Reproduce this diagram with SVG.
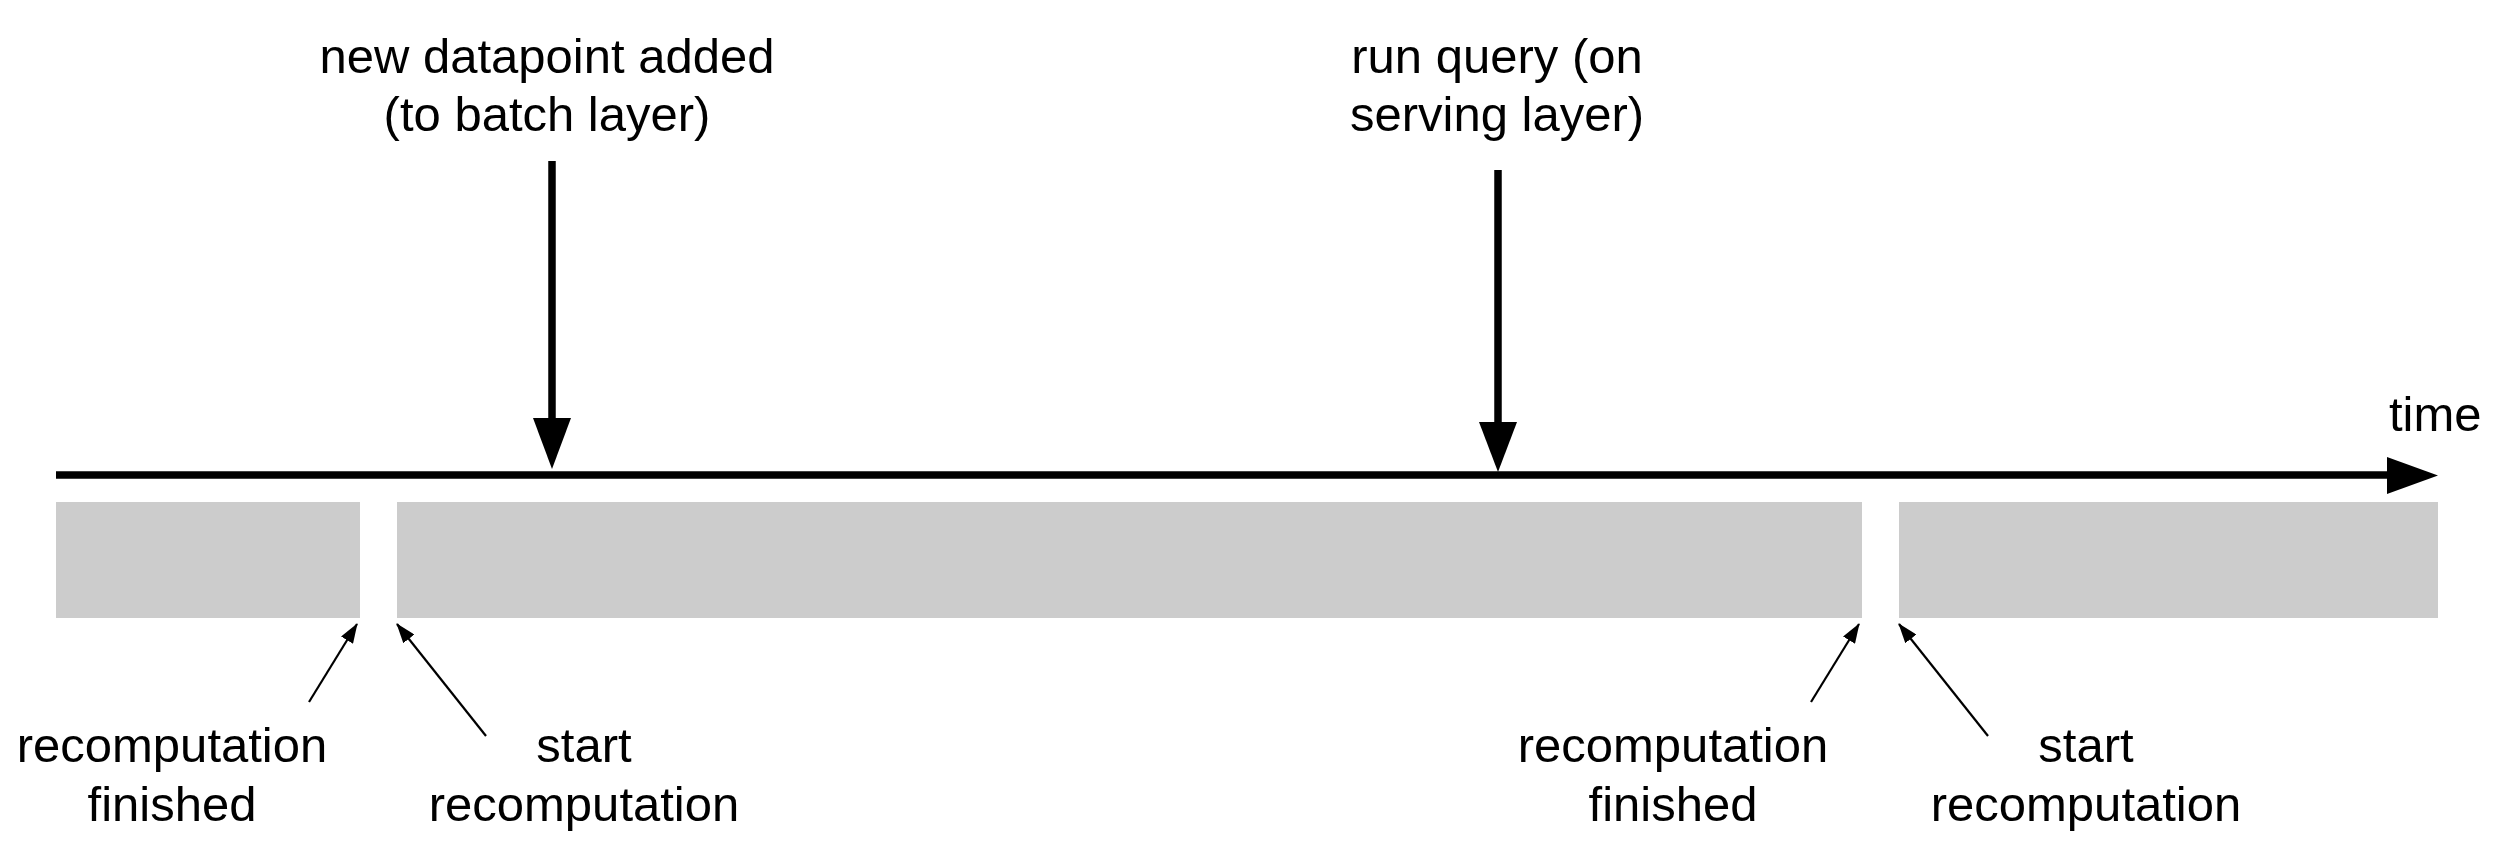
<svg xmlns="http://www.w3.org/2000/svg" width="2502" height="852" viewBox="0 0 2502 852">
<defs>
<style>
text { font-family: "Liberation Sans", Arial, Helvetica, sans-serif; font-size: 49px; fill: #000; }
.c { text-anchor: middle; }
.bar { fill: #cccccc; }
.thick { stroke: #000; stroke-width: 7.5; fill: none; }
.thin { stroke: #000; stroke-width: 2.2; fill: none; }
.head { fill: #000; }
</style>
<marker id="sm" viewBox="0 0 20 14" refX="19" refY="7" markerWidth="20" markerHeight="14" markerUnits="userSpaceOnUse" orient="auto">
<path d="M0,0 L20,7 L0,14 z" fill="#000"/>
</marker>
</defs>
<rect width="2502" height="852" fill="#fff"/>
<g id="bars">
<rect class="bar" x="56" y="502" width="304" height="116"/>
<rect class="bar" x="397" y="502" width="1465" height="116"/>
<rect class="bar" x="1899" y="502" width="539" height="116"/>
</g>
<g id="connectors">
<line class="thick" x1="56" y1="475" x2="2392" y2="475"/>
<polygon class="head" points="2387,457 2438,475.5 2387,494"/>
<line class="thick" x1="552" y1="161" x2="552" y2="425"/>
<polygon class="head" points="533,418 571,418 552,469"/>
<line class="thick" x1="1498" y1="170" x2="1498" y2="428"/>
<polygon class="head" points="1479,422 1517,422 1498,472"/>
<line class="thin" x1="309" y1="702" x2="357" y2="624" marker-end="url(#sm)"/>
<line class="thin" x1="486" y1="736" x2="397" y2="624" marker-end="url(#sm)"/>
<line class="thin" x1="1811" y1="702" x2="1859" y2="624" marker-end="url(#sm)"/>
<line class="thin" x1="1988" y1="736" x2="1899" y2="624" marker-end="url(#sm)"/>
</g>
<g id="label-new-datapoint">
<text class="c" x="547" y="73">new datapoint added</text>
<text class="c" x="547" y="131">(to batch layer)</text>
</g>
<g id="label-run-query">
<text class="c" x="1497" y="73">run query (on</text>
<text class="c" x="1497" y="131">serving layer)</text>
</g>
<g id="label-time">
<text x="2389" y="431">time</text>
</g>
<g id="label-finished-1">
<text class="c" x="172" y="762">recomputation</text>
<text class="c" x="172" y="821">finished</text>
</g>
<g id="label-start-1">
<text class="c" x="584" y="762">start</text>
<text class="c" x="584" y="821">recomputation</text>
</g>
<g id="label-finished-2">
<text class="c" x="1673" y="762">recomputation</text>
<text class="c" x="1673" y="821">finished</text>
</g>
<g id="label-start-2">
<text class="c" x="2086" y="762">start</text>
<text class="c" x="2086" y="821">recomputation</text>
</g>
</svg>
